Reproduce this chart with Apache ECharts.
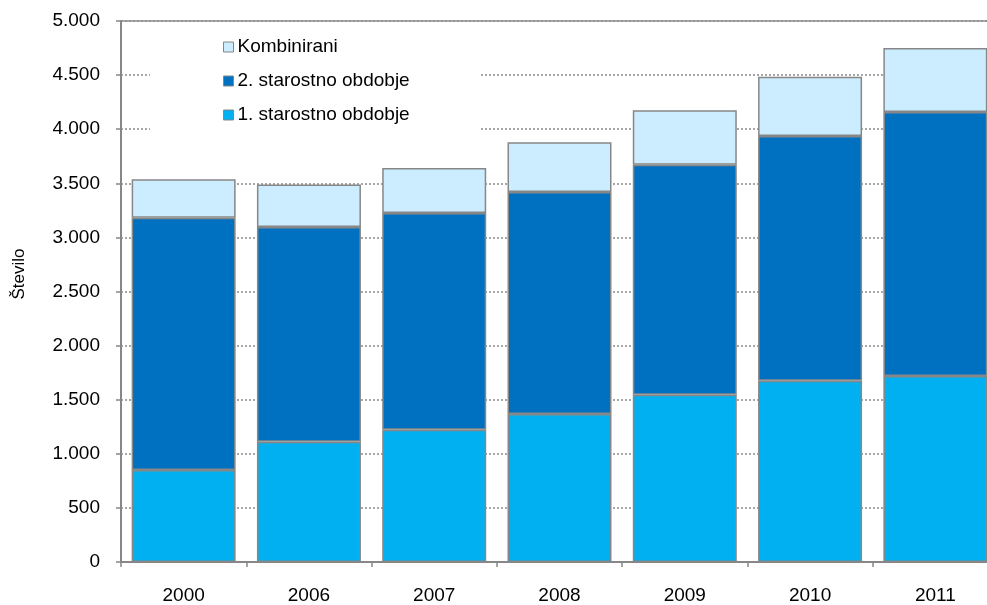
<!DOCTYPE html>
<html>
<head>
<meta charset="utf-8">
<script src="https://cdn.jsdelivr.net/npm/echarts@6/dist/echarts.min.js"></script>
<style>
html,body{margin:0;padding:0;background:#fff;}
#c{width:987px;height:605px;}
</style>
</head>
<body>
<div id="c"></div>
<script>
var categories = ['2000','2006','2007','2008','2009','2010','2011'];
var prvo = [850, 1112, 1223, 1368, 1546, 1676, 1719];
var drugo = [2332, 1984, 2002, 2052, 2126, 2261, 2440];
var kombinirani = [355, 394, 416, 459, 503, 548, 591];
var yTicks = {min: 0, max: 5000, interval: 500};
var seriesNames = ['1. starostno obdobje', '2. starostno obdobje', 'Kombinirani'];
var yTitle = 'Število';

var font = 'Liberation Sans, Arial, sans-serif';
var border = {borderColor: '#878787', borderWidth: 1.5};

var chart = echarts.init(document.getElementById('c'), null, {renderer: 'canvas'});
chart.setOption({
  animation: false,
  backgroundColor: '#fff',
  textStyle: {fontFamily: font},
  grid: {left: 121, top: 21, bottom: 43, width: 877, containLabel: false, outerBoundsMode: 'none'},
  legend: {
    orient: 'vertical',
    left: 150, top: 27,
    data: [seriesNames[2], seriesNames[1], seriesNames[0]],
    backgroundColor: '#fff',
    padding: [10, 70, 10, 73],
    itemGap: 14,
    itemWidth: 10, itemHeight: 10,
    icon: 'rect',
    textStyle: {fontSize: 19, lineHeight: 20, color: '#000', fontFamily: font, padding: [0,0,0,-1]},
    itemStyle: {borderColor: '#878787', borderWidth: 1}
  },
  graphic: [{
    type: 'text',
    x: 19, y: 274,
    rotation: Math.PI / 2,
    style: {text: yTitle, fontSize: 17, fontFamily: font, fill: '#000', align: 'center', verticalAlign: 'middle'}
  }],
  xAxis: [{
    type: 'category',
    data: categories,
    axisLine: {lineStyle: {color: '#878787', width: 2}},
    axisTick: {show: true, alignWithLabel: false, length: 5, lineStyle: {color: '#878787', width: 1.5}},
    axisLabel: {color: '#000', fontSize: 19, margin: 24, fontFamily: font}
  }, {
    type: 'category',
    data: categories,
    position: 'top',
    axisLine: {show: true, lineStyle: {color: '#8f8f8f', width: 1.5}},
    axisTick: {show: false},
    axisLabel: {show: false}
  }],
  yAxis: {
    type: 'value',
    min: yTicks.min, max: yTicks.max, interval: yTicks.interval,
    axisLine: {show: true, lineStyle: {color: '#878787', width: 2}},
    axisTick: {show: true, length: 5, lineStyle: {color: '#878787', width: 1.5}},
    axisLabel: {
      color: '#000', fontSize: 19, margin: 21, fontFamily: font,
      formatter: function (v) { return String(v).replace(/\B(?=(\d{3})+(?!\d))/g, '.'); }
    },
    splitLine: {show: true, lineStyle: {color: '#8a8a8a', type: [2, 2], width: 1.5}}
  },
  series: [
    {name: seriesNames[0], type: 'bar', stack: 't', data: prvo, barCategoryGap: '17%',
     itemStyle: Object.assign({color: '#00B0F0'}, border)},
    {name: seriesNames[1], type: 'bar', stack: 't', data: drugo,
     itemStyle: Object.assign({color: '#0070C0'}, border)},
    {name: seriesNames[2], type: 'bar', stack: 't', data: kombinirani,
     itemStyle: Object.assign({color: '#CCECFF'}, border)}
  ]
});
</script>
</body>
</html>
